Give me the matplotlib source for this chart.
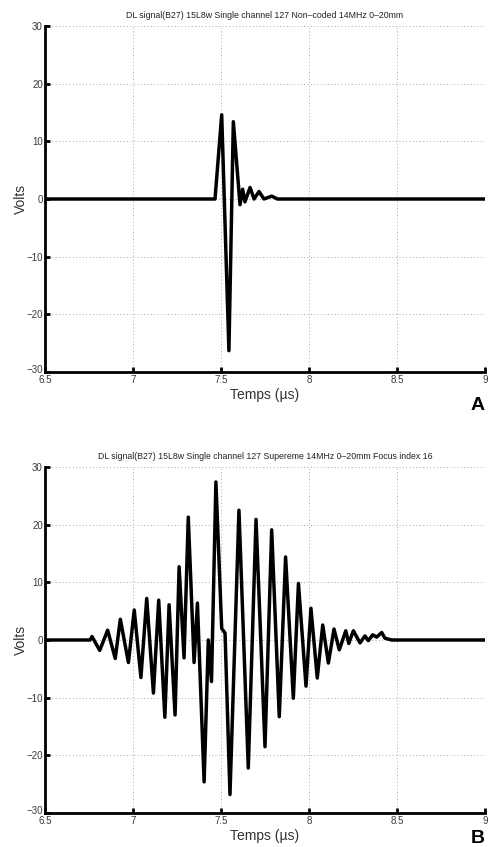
import matplotlib
matplotlib.use("Agg")
import matplotlib.pyplot as plt
from matplotlib.transforms import ScaledTranslation

plt.rcParams['font.family'] = ['Liberation Sans', 'DejaVu Sans']

# ---- data ----
title_a = "DL signal(B27) 15L8w Single channel 127 Non\u2013coded 14MHz 0\u201320mm"
title_b = "DL signal(B27) 15L8w Single channel 127 Supereme 14MHz 0\u201320mm Focus index 16"

t_a = [6.5, 7.466, 7.504, 7.545, 7.570, 7.608, 7.623, 7.636, 7.665, 7.688,
       7.716, 7.744, 7.788, 7.820, 9.0]
v_a = [0.0, 0.0, 14.6, -26.3, 13.4, -1.0, 1.7, -0.5, 2.0, 0.0,
       1.3, 0.0, 0.5, 0.0, 0.0]

t_b = [6.5, 6.756, 6.767, 6.811, 6.856, 6.899, 6.928, 6.974, 7.007, 7.045,
       7.078, 7.116, 7.146, 7.181, 7.205, 7.239, 7.262, 7.290, 7.314, 7.347,
       7.366, 7.404, 7.428, 7.446, 7.471, 7.504, 7.523, 7.551, 7.602, 7.655,
       7.699, 7.750, 7.788, 7.831, 7.867, 7.911, 7.940, 7.983, 8.011, 8.047,
       8.078, 8.110, 8.142, 8.172, 8.209, 8.226, 8.252, 8.290, 8.318, 8.337,
       8.362, 8.384, 8.413, 8.432, 8.470, 9.0]
v_b = [0.0, 0.0, 0.6, -1.8, 1.7, -3.2, 3.6, -3.9, 5.2, -6.5,
       7.2, -9.2, 6.9, -13.4, 6.1, -13.0, 12.7, -3.1, 21.3, -3.9,
       6.4, -24.6, 0.0, -7.2, 27.4, 2.0, 1.2, -26.8, 22.5, -22.2,
       20.9, -18.5, 19.1, -13.3, 14.4, -10.1, 9.8, -8.0, 5.5, -6.6,
       2.6, -4.0, 1.9, -1.7, 1.6, -0.6, 1.6, -0.5, 0.7, -0.1,
       0.9, 0.5, 1.3, 0.3, 0.0, 0.0]

x_ticks = [6.5, 7, 7.5, 8, 8.5, 9]
x_tick_labels = ["6.5", "7", "7.5", "8", "8.5", "9"]
y_ticks = [-30, -20, -10, 0, 10, 20, 30]
y_tick_labels = ["\u221230", "\u221220", "\u221210", "0", "10", "20", "30"]
x_label = "Temps (\u00b5s)"
y_label = "Volts"
panel_labels = ["A", "B"]

W, H = 488, 847
fig = plt.figure(figsize=(W / 100, H / 100), dpi=100)

def px_axes(left, top, right, bottom):
    return fig.add_axes([left / W, 1 - bottom / H, (right - left) / W, (bottom - top) / H])

ax_a = px_axes(45, 26, 485, 372)
ax_b = px_axes(45, 467, 485, 813)
label_y_px = [405, 838]

for ax, t, v, title, lab, ly in zip([ax_a, ax_b], [t_a, t_b], [v_a, v_b],
                                    [title_a, title_b], panel_labels, label_y_px):
    ax.plot(t, v, color='black', lw=2.5, solid_joinstyle='round',
            solid_capstyle='round')
    ax.set_xlim(6.5, 9)
    ax.set_ylim(-30, 30)
    ax.set_xticks(x_ticks)
    ax.set_xticklabels(x_tick_labels)
    ax.set_yticks(y_ticks)
    ax.set_yticklabels(y_tick_labels)
    ax.grid(True, linestyle=(0, (1, 2.5)), color='#a8a8a8', lw=0.7)
    ax.set_axisbelow(True)
    for s in ['top', 'right']:
        ax.spines[s].set_visible(False)
    for s in ['left', 'bottom']:
        ax.spines[s].set_linewidth(2.0)
        ax.spines[s].set_color('black')
    ax.tick_params(direction='in', length=3.5, width=2.0, labelsize=7,
                   labelcolor='#3a3a3a')
    ax.tick_params(axis='x', pad=2)
    ax.tick_params(axis='y', pad=1.5)
    # nudge the corner labels apart (as in the original)
    ylabs = ax.get_yticklabels()
    ylabs[0].set_transform(ylabs[0].get_transform() +
                           ScaledTranslation(0, 3 / 100, fig.dpi_scale_trans))
    ax.set_title(title, fontsize=6.3, color='#222222', pad=6)
    ax.set_xlabel(x_label, fontsize=10, color='#333333', labelpad=2)
    ax.set_ylabel(y_label, fontsize=10, color='#333333', labelpad=-1)
    fig.text(485 / W, 1 - ly / H, lab, fontsize=14, fontweight='bold',
             ha='right', va='center', color='black')

fig.savefig("out.png", dpi=100)
